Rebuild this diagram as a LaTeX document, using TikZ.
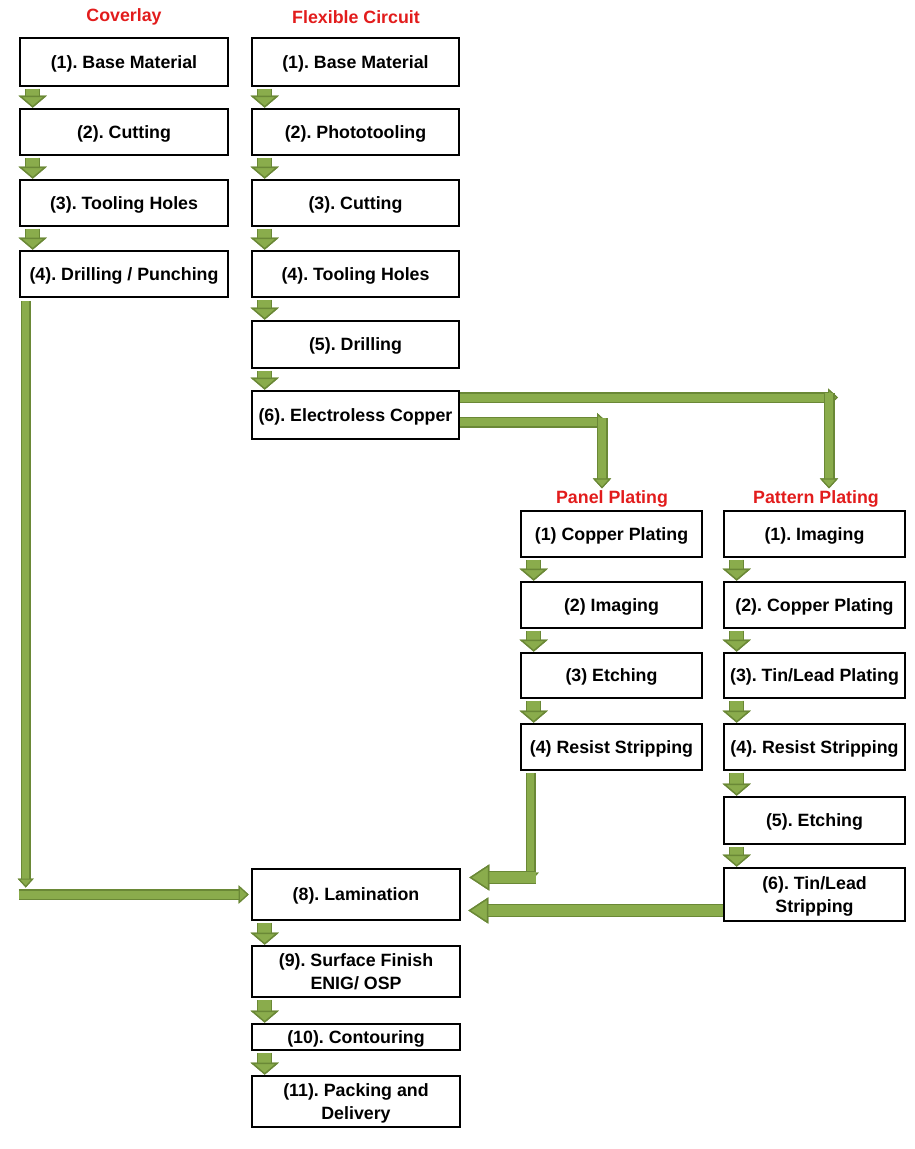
\documentclass[tikz,border=0pt]{standalone}
\usepackage{fontspec}
\setmainfont{Liberation Sans}
\usetikzlibrary{positioning,calc,arrows.meta}

\definecolor{flowfill}{RGB}{138,172,76}
\definecolor{flowline}{RGB}{106,136,54}
\definecolor{headred}{RGB}{226,28,28}
\newcommand{\boxfont}{\fontsize{17.8}{23.5}\selectfont\bfseries\frenchspacing}

\tikzset{
  stepbox/.style={rectangle, draw=black, line width=2.6pt, inner sep=0pt, text depth=0pt, align=center, font=\boxfont, minimum width=#1},
  coltitle/.style={text=headred, font=\boxfont, inner sep=2pt},
  stepflow/.style={draw=flowfill, line width=12.5pt, preaction={draw=flowline, line width=15.5pt},
    -{Triangle[width=28pt,length=12pt,line width=1.4pt,color=flowline,fill=flowfill]}},
  thinflow/.style={draw=flowfill, line width=7pt, preaction={draw=flowline, line width=10pt},
    -{Triangle[width=16pt,length=9pt,line width=1.2pt,color=flowline,fill=flowfill]}},
  sideflow/.style={draw=flowfill, line width=8pt, preaction={draw=flowline, line width=11pt},
    -{Triangle[width=18pt,length=10pt,line width=1.2pt,color=flowline,fill=flowfill]}},
  longflow/.style={draw=flowfill, line width=10.5pt, preaction={draw=flowline, line width=13.5pt},
    -{Triangle[width=26pt,length=20pt,line width=1.4pt,color=flowline,fill=flowfill]}},
}

\begin{document}
\begin{tikzpicture}[x=1pt, y=-1pt]
    \useasboundingbox (0,0) rectangle (915,1149);

    % Column titles
    \node[coltitle] (covtitle) at (124,17) {Coverlay};
    \node[coltitle] (flextitle) at (356,17) {Flexible Circuit};
    \node[coltitle] (pantitle) at (612,499) {Panel Plating};
    \node[coltitle] (pattitle) at (816,499) {Pattern Plating};

    % Coverlay steps
    \node[stepbox=208pt, minimum height=48pt] (cov1) at (124,62) {(1). Base Material};
    \node[stepbox=208pt, minimum height=46pt] (cov2) at (124,132) {(2). Cutting};
    \node[stepbox=208pt, minimum height=46pt] (cov3) at (124,203) {(3). Tooling Holes};
    \node[stepbox=208pt, minimum height=46pt] (cov4) at (124,274) {(4). Drilling / Punching};

    % Flexible circuit steps
    \node[stepbox=207pt, minimum height=48pt] (flex1) at (355.5,62) {(1). Base Material};
    \node[stepbox=207pt, minimum height=46pt] (flex2) at (355.5,132) {(2). Phototooling};
    \node[stepbox=207pt, minimum height=46pt] (flex3) at (355.5,203) {(3). Cutting};
    \node[stepbox=207pt, minimum height=46pt] (flex4) at (355.5,274) {(4). Tooling Holes};
    \node[stepbox=207pt, minimum height=47pt] (flex5) at (355.5,344.5) {(5). Drilling};
    \node[stepbox=207pt, minimum height=48pt] (flex6) at (355.5,415) {(6). Electroless Copper};

    % Panel plating steps
    \node[stepbox=181pt, minimum height=46pt] (pan1) at (611.5,534) {(1) Copper Plating};
    \node[stepbox=181pt, minimum height=46pt] (pan2) at (611.5,605) {(2) Imaging};
    \node[stepbox=181pt, minimum height=45pt] (pan3) at (611.5,675.5) {(3) Etching};
    \node[stepbox=181pt, minimum height=46pt] (pan4) at (611.5,747) {(4) Resist Stripping};

    % Pattern plating steps
    \node[stepbox=181pt, minimum height=46pt] (pat1) at (814.5,534) {(1). Imaging};
    \node[stepbox=181pt, minimum height=46pt] (pat2) at (814.5,605) {(2). Copper Plating};
    \node[stepbox=181pt, minimum height=45pt] (pat3) at (814.5,675.5) {(3). Tin/Lead Plating};
    \node[stepbox=181pt, minimum height=46pt] (pat4) at (814.5,747) {(4). Resist Stripping};
    \node[stepbox=181pt, minimum height=47pt] (pat5) at (814.5,820.5) {(5). Etching};
    \node[stepbox=181pt, minimum height=53pt] (pat6) at (814.5,894.5) {(6). Tin/Lead\\Stripping};

    % Final steps
    \node[stepbox=208pt, minimum height=51pt] (lam) at (356,894.5) {(8). Lamination};
    \node[stepbox=208pt, minimum height=51pt] (fin9) at (356,971.5) {(9). Surface Finish\\ENIG/ OSP};
    \node[stepbox=208pt, minimum height=26pt] (fin10) at (356,1037) {(10). Contouring};
    \node[stepbox=208pt, minimum height=51pt] (fin11) at (356,1101.5) {(11). Packing and\\Delivery};

    % Step to step arrows
    \foreach \a/\b in {cov1/cov2, cov2/cov3, cov3/cov4,
                       flex1/flex2, flex2/flex3, flex3/flex4, flex4/flex5, flex5/flex6,
                       pan1/pan2, pan2/pan3, pan3/pan4,
                       pat1/pat2, pat2/pat3, pat3/pat4, pat4/pat5, pat5/pat6,
                       lam/fin9, fin9/fin10, fin10/fin11}
        \draw[stepflow] ([xshift=14pt,yshift=-1.3pt]\a.south west) -- ([xshift=14pt]\b.north west);

    % Electroless copper to the two plating routes
    \coordinate (upturn) at (838,397.5);
    \coordinate (updown) at (829,393);
    \coordinate (lowturn) at (607,422);
    \coordinate (lowdown) at (602,418);
    \draw[sideflow] (flex6.east |- upturn) -- (upturn);
    \draw[sideflow] (updown) -- (updown |- pattitle.north);
    \draw[sideflow] (flex6.east |- lowturn) -- (lowturn);
    \draw[sideflow] (lowdown) -- (lowdown |- pantitle.north);

    % Coverlay to lamination
    \coordinate (covdrop) at ($(cov4.south west |- lam.west)+(7,-7)$);
    \draw[thinflow] ([xshift=7pt,yshift=-3pt]cov4.south west) -- (covdrop);
    \draw[sideflow] (cov4.west |- lam.west) -- ([xshift=-2pt]lam.west);

    % Plating routes to lamination
    \coordinate (pandrop) at ($(pan4.south west |- lam.east)+(11,-17)$);
    \draw[thinflow] ([xshift=11pt,yshift=-2pt]pan4.south west) -- ($(pandrop)+(0,4)$);
    \draw[longflow] ($(pandrop)+(5,0)$) -- ([xshift=8pt,yshift=17pt]lam.east);
    \draw[longflow] ([yshift=-16pt]pat6.west) -- ([xshift=7pt,yshift=-16pt]lam.east);
\end{tikzpicture}
\end{document}
